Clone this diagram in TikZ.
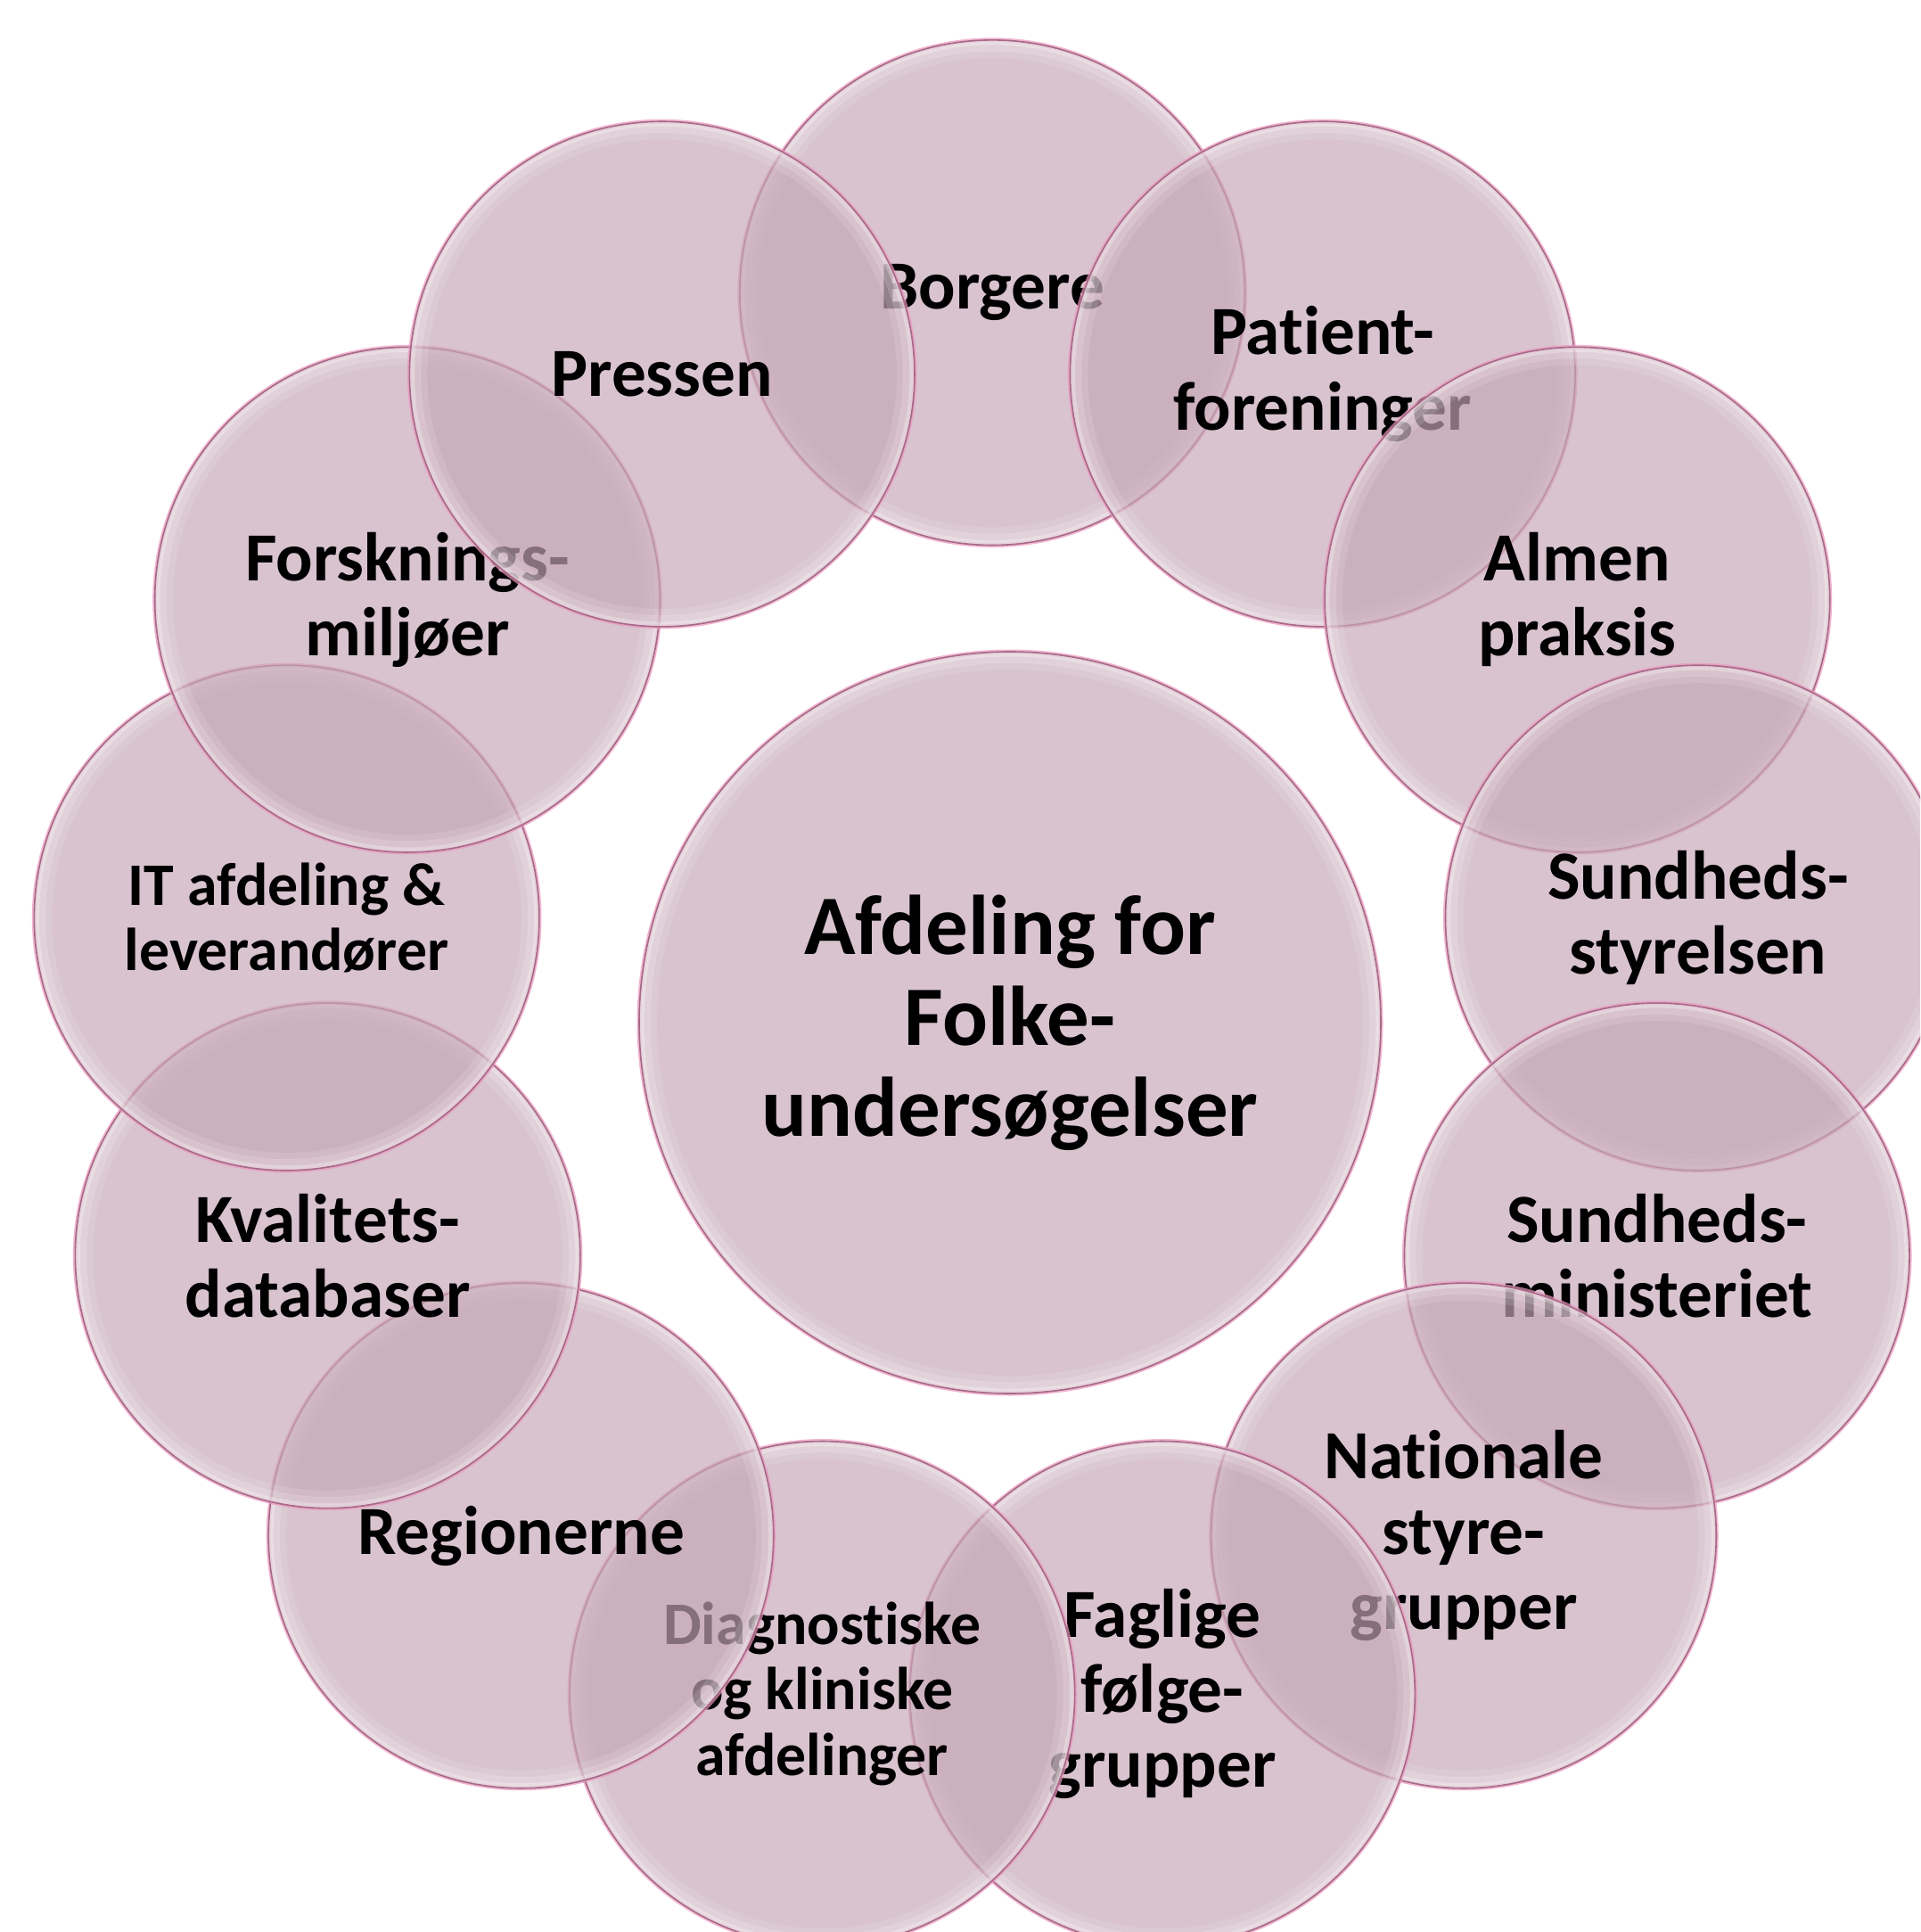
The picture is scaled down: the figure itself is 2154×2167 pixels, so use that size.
\documentclass[tikz,border=0pt]{standalone}
\usepackage{fontspec}
\setmainfont{Carlito}[RawFeature={-liga;-clig;-dlig;-calt}]
\definecolor{bubfill}{RGB}{198,167,182}
\definecolor{bubline}{RGB}{165,105,135}
\definecolor{bubglow}{RGB}{236,150,190}
\newcommand{\nl}{\kern0pt }
\tikzset{
  bubble/.style={circle, minimum size={2*#1}, inner sep=0pt, align=center,
    fill=bubfill, fill opacity=0.67, text opacity=1, text=black,
    draw=bubline, line width=0.16mm,
    preaction={draw=bubglow, line width=0.5mm, draw opacity=0.7, fill opacity=0},
    path picture={
      \draw[white, opacity=.45, line width=.5mm] (path picture bounding box.center) circle[radius={#1-0.3mm}];
      \draw[white, opacity=.25, line width=.7mm] (path picture bounding box.center) circle[radius={#1-0.9mm}];
      \draw[white, opacity=.12, line width=.8mm] (path picture bounding box.center) circle[radius={#1-1.6mm}];
    }},
  outertext/.style={font=\bfseries\fontsize{22pt}{24pt}\selectfont},
  smalltext/.style={font=\bfseries\fontsize{19.3pt}{21pt}\selectfont},
  centertext/.style={font=\bfseries\fontsize{27pt}{29pt}\selectfont},
}
\newcommand{\ringx}[1]{{1113.2+797.4*sin(#1*360/13)}}
\newcommand{\ringy}[1]{{1125.6-797.4*cos(#1*360/13)}}
\begin{document}
\begin{tikzpicture}[x=0.1mm, y=-0.1mm]
\fill[white] (0,0) rectangle (2154,2167);
\useasboundingbox (0,0) rectangle (2154,2167);
\begin{scope}
\clip (0,0) rectangle (2154,2167);
\node[bubble=28.33mm, outertext] (borgere) at (\ringx{0},\ringy{0}) {Borgere};
\node[bubble=28.33mm, outertext] (patient) at (\ringx{1},\ringy{1}) {Pat\nl ient-\\foreninger};
\node[bubble=28.33mm, outertext] (almen) at (\ringx{2},\ringy{2}) {Almen\\praksis};
\node[bubble=28.33mm, outertext] (styrelsen) at (\ringx{3},\ringy{3}) {Sundheds-\\styrelsen};
\node[bubble=28.33mm, outertext] (ministeriet) at (\ringx{4},\ringy{4}) {Sundheds-\\ministeriet};
\node[bubble=28.33mm, outertext] (nationale) at (\ringx{5},\ringy{5}) {Nat\nl ionale\\styre-\\grupper};
\node[bubble=28.33mm, outertext] (faglige) at (\ringx{6},\ringy{6}) {Faglige\\følge-\\grupper};
\node[bubble=28.33mm, smalltext] (diagnostiske) at (\ringx{7},\ringy{7}) {Diagnost\nl iske\\og kliniske\\afdelinger};
\node[bubble=28.33mm, outertext] (regionerne) at (\ringx{8},\ringy{8}) {Regionerne};
\node[bubble=28.33mm, outertext] (kvalitet) at (\ringx{9},\ringy{9}) {Kvalit\nl ets-\\databaser};
\node[bubble=28.33mm, smalltext] (it) at (\ringx{10},\ringy{10}) {IT afdeling \&\\leverandører};
\node[bubble=28.33mm, outertext] (forskning) at (\ringx{11},\ringy{11}) {Forsknings-\\miljøer};
\node[bubble=28.33mm, outertext] (pressen) at (\ringx{12},\ringy{12}) {Pressen};
\node[bubble=41.6mm, centertext] (center) at (1133,1147) {Afdeling for\\Folke-\\undersøgelser};
\end{scope}
\end{tikzpicture}
\end{document}
